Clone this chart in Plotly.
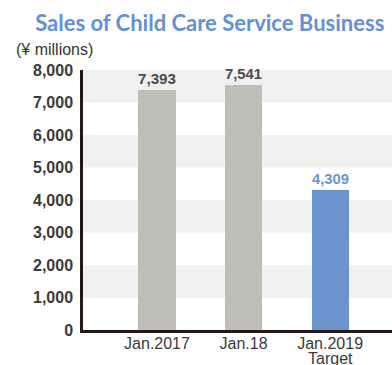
import plotly.graph_objects as go

# Sales figures (¥ millions)
categories = ["Jan.2017", "Jan.18", "Jan.2019"]
category_notes = ["", "", "Target"]
sales = [7393, 7541, 4309]
bar_colors = ["#bfbeb6", "#bfbeb6", "#6b94cd"]
label_colors = ["#4a4a4a", "#4a4a4a", "#6b94cd"]
y_ticks = [0, 1000, 2000, 3000, 4000, 5000, 6000, 7000, 8000]
y_tick_labels = ["0", "1,000", "2,000", "3,000", "4,000", "5,000", "6,000", "7,000", "8,000"]

fig = go.Figure()
fig.add_trace(go.Bar(
    x=list(range(len(categories))),
    y=sales,
    width=0.43,
    marker=dict(color=bar_colors, line=dict(width=0)),
    text=[f"{v:,}" for v in sales],
    textposition="outside",
    cliponaxis=False,
    textfont=dict(family="Arial", size=18, color=label_colors, weight="bold"),
    hoverinfo="skip",
))

# alternating horizontal bands
shapes = []
for lo in range(1000, 8000, 2000):
    shapes.append(dict(type="rect", xref="paper", yref="y", x0=0, x1=1,
                       y0=lo, y1=lo + 1000, fillcolor="#f0f0f0",
                       line=dict(width=0), layer="below"))

annotations = [dict(text="(¥ millions)", xref="paper", yref="paper",
                    x=-0.222, y=1.08, xanchor="left", yanchor="middle",
                    showarrow=False,
                    font=dict(family="Arial", size=16, color="#333333"))]
# second line under a category label, set tighter than a <br> break
for i, note in enumerate(category_notes):
    if note:
        annotations.append(dict(text=note, xref="x", yref="paper",
                                x=i, y=-0.11, xanchor="center", yanchor="middle",
                                showarrow=False,
                                font=dict(family="Arial", size=16, color="#3a3a3a")))

fig.update_layout(
    width=392, height=365,
    margin=dict(l=83, r=0, t=70, b=35, autoexpand=False),
    paper_bgcolor="white", plot_bgcolor="white",
    showlegend=False,
    bargap=0,
    shapes=shapes,
    annotations=annotations,
    title=dict(text="Sales of Child Care Service Business",
               font=dict(family="Lato", size=22, color="#6390d6", weight="bold"),
               x=0.535, xanchor="center", y=0.937, yanchor="middle"),
    xaxis=dict(range=[-0.855, 2.715], tickmode="array",
               tickvals=list(range(len(categories))), ticktext=categories,
               showline=True, linecolor="#231815", linewidth=2.5,
               showgrid=False, zeroline=False, ticks="",
               automargin=False,
               ticklabelstandoff=-3,
               tickfont=dict(family="Arial", size=16, color="#3a3a3a"),
               fixedrange=True),
    yaxis=dict(range=[0, 8000], tickmode="array", tickvals=y_ticks,
               ticktext=y_tick_labels,
               showline=True, linecolor="#231815", linewidth=2.5,
               showgrid=False, zeroline=False, ticks="",
               automargin=False,
               ticklabelstandoff=4,
               tickfont=dict(family="Arial", size=16, color="#3a3a3a", weight="bold"),
               fixedrange=True),
)

fig.write_html("out.html")
